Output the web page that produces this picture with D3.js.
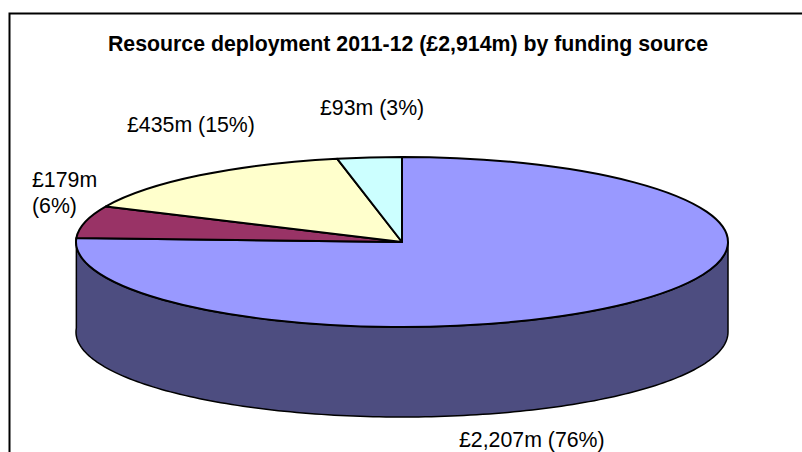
<!DOCTYPE html>
<html>
<head>
<meta charset="utf-8">
<script src="https://cdn.jsdelivr.net/npm/d3@7/dist/d3.min.js"></script>
<style>
html, body { margin: 0; padding: 0; background: #fff; }
svg { display: block; }
text { font-family: "Liberation Sans", Arial, sans-serif; fill: #000; }
</style>
</head>
<body>
<svg id="chart" width="802" height="452"></svg>
<script>
// Funding sources, in clockwise order from twelve o'clock
const sources = ["Source A", "Source B", "Source C", "Source D"];
const amounts = [2207, 179, 435, 93];
const labelLines = [["£2,207m (76%)"], ["£179m", "(6%)"], ["£435m (15%)"], ["£93m (3%)"]];
const sliceColours = ["#9999ff", "#993366", "#ffffcc", "#ccffff"];
const wallColour = "#4d4d80";
const chartTitle = "Resource deployment 2011-12 (£2,914m) by funding source";

const cx = 402, cy = 242, rx = 326, ry = 85, depth = 90;

const svg = d3.select("#chart");

// Chart frame, running off the right and bottom of the page
svg.append("rect")
  .attr("x", 9.5).attr("y", 13.5)
  .attr("width", 820).attr("height", 460)
  .attr("fill", "#fff").attr("stroke", "#000").attr("stroke-width", 2);

svg.append("text")
  .attr("x", 408).attr("y", 50.5)
  .attr("text-anchor", "middle")
  .attr("font-size", 21.3).attr("font-weight", "bold")
  .text(chartTitle);

const pie = d3.pie().sort(null).value(d => d);
const arcs = pie(amounts);

// Point on the tilted rim for a clockwise angle measured from twelve o'clock
const rimX = d3.scaleLinear().domain([-1, 1]).range([cx - rx, cx + rx]);
const rimY = d3.scaleLinear().domain([-1, 1]).range([cy - ry, cy + ry]);
const rim = a => [rimX(Math.sin(a)), rimY(-Math.cos(a))];

// Side wall of the first slice where it faces the viewer
const wallAngles = d3.range(Math.PI / 2, arcs[0].endAngle, 0.02).concat([arcs[0].endAngle]);
const wall = d3.area()
  .x(a => rim(a)[0])
  .y0(a => rim(a)[1])
  .y1(a => rim(a)[1] + depth);

svg.append("path")
  .attr("d", wall(wallAngles))
  .attr("fill", wallColour).attr("stroke", "#000").attr("stroke-width", 1.5);

// Top face: a flat pie squashed vertically
const arcGen = d3.arc().innerRadius(0).outerRadius(rx);
svg.append("g")
  .attr("transform", `translate(${cx},${cy}) scale(1,${ry / rx})`)
  .selectAll("path")
  .data(arcs)
  .join("path")
  .attr("d", arcGen)
  .attr("fill", (d, i) => sliceColours[i])
  .attr("stroke", "#000").attr("stroke-width", 2)
  .attr("vector-effect", "non-scaling-stroke")
  .attr("stroke-linejoin", "round");

// Slice labels, anchored by their left edge and first baseline
const labelAnchors = [[459, 447], [32, 187], [127, 131.5], [320, 115]];
const labels = svg.append("g").attr("font-size", 21.3);
labelLines.forEach((lines, i) => {
  const t = labels.append("text")
    .attr("x", labelAnchors[i][0]).attr("y", labelAnchors[i][1]);
  lines.forEach((line, j) => {
    t.append("tspan")
      .attr("x", labelAnchors[i][0])
      .attr("dy", j ? 26 : 0)
      .text(line);
  });
});
</script>
</body>
</html>
